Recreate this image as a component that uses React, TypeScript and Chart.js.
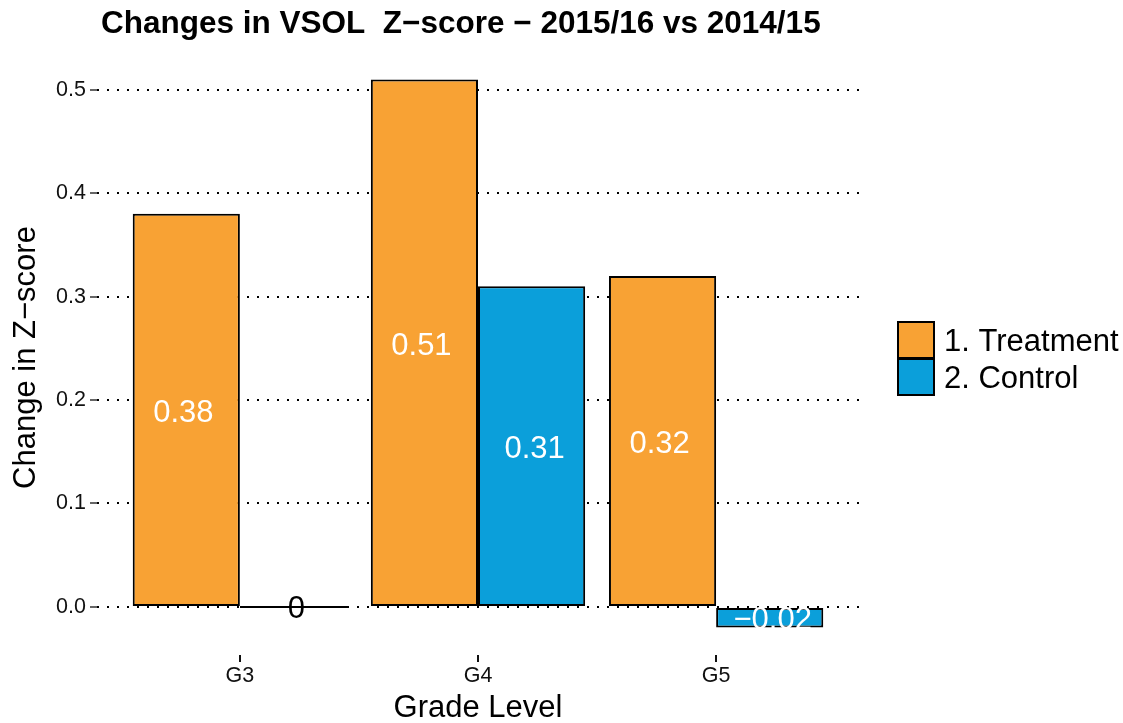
import React, { useEffect, useRef } from "react";
import { Chart, registerables } from "chart.js";

Chart.register(...registerables);

const categories = ["G3", "G4", "G5"];
const treatment = [0.38, 0.51, 0.32];
const control = [0, 0.31, -0.02];
const seriesNames = ["1. Treatment", "2. Control"];
const seriesColors = ["#F8A234", "#0B9FDA"];
const yTicks = [0, 0.1, 0.2, 0.3, 0.4, 0.5];
const titleText = "Changes in VSOL  Z\u2212score \u2212 2015/16 vs 2014/15";
const yTitle = "Change in Z\u2212score";
const xTitle = "Grade Level";

const FONT = "'Liberation Sans', Arial, Helvetica, sans-serif";
const LABEL_DODGE = 0.95;

function fmt(v: number): string {
  if (v === 0) return "0";
  const s = String(Math.abs(v));
  return (v < 0 ? "\u2212" : "") + s;
}

const decorPlugin = {
  id: "decor",
  afterDatasetsDraw(chart: any) {
    const ctx = chart.ctx as CanvasRenderingContext2D;
    const yScale = chart.scales.y;
    const xScale = chart.scales.x;
    const n = chart.data.datasets.length;
    ctx.save();
    ctx.font = `31px ${FONT}`;
    ctx.textAlign = "center";
    ctx.textBaseline = "alphabetic";
    chart.data.datasets.forEach((ds: any, di: number) => {
      ds.data.forEach((pt: any) => {
        const v = pt.y as number;
        const off = (-LABEL_DODGE / 2) + (LABEL_DODGE / n) * (di + 0.5);
        const px = xScale.getPixelForValue(pt.x + off);
        const py = yScale.getPixelForValue(v / 2) + 11.5;
        ctx.fillStyle = v === 0 ? "#000000" : "#FFFFFF";
        ctx.fillText(fmt(v), px, py);
      });
    });
    ctx.restore();
  },
  afterDraw(chart: any) {
    const ctx = chart.ctx as CanvasRenderingContext2D;
    const area = chart.chartArea;
    const xScale = chart.scales.x;
    const yScale = chart.scales.y;
    ctx.save();
    ctx.setLineDash([]);
    ctx.globalAlpha = 1;
    ctx.fillStyle = "#111111";
    const tickTop = Math.round(yScale.bottom);
    categories.forEach((_, i) => {
      const px = Math.round(xScale.getPixelForValue(i + 1));
      ctx.fillRect(px - 1, tickTop, 2, 7);
    });
    ctx.fillStyle = "#000000";
    ctx.font = `bold 31.5px ${FONT}`;
    ctx.textAlign = "left";
    ctx.textBaseline = "alphabetic";
    ctx.fillText(titleText, 101, 33);
    ctx.font = `31px ${FONT}`;
    ctx.textAlign = "center";
    ctx.fillText(xTitle, (area.left + area.right) / 2, 717);
    ctx.save();
    ctx.translate(35, (area.top + area.bottom) / 2 + 4);
    ctx.rotate(-Math.PI / 2);
    ctx.textAlign = "center";
    ctx.fillText(yTitle, 0, 0);
    ctx.restore();
    const boxX = 898;
    const boxS = 36;
    const tops = [322, 359];
    chart.data.datasets.forEach((ds: any, di: number) => {
      const t = tops[di];
      ctx.fillStyle = ds.backgroundColor;
      ctx.fillRect(boxX, t, boxS, boxS);
      ctx.strokeStyle = "#000000";
      ctx.lineWidth = 2;
      ctx.strokeRect(boxX, t, boxS, boxS);
      ctx.fillStyle = "#000000";
      ctx.font = `31px ${FONT}`;
      ctx.textAlign = "left";
      ctx.textBaseline = "alphabetic";
      ctx.fillText(ds.label, 944, t + 29);
    });
    ctx.restore();
  },
};

export default function App() {
  const ref = useRef<HTMLCanvasElement | null>(null);
  useEffect(() => {
    if (!ref.current) return;
    const mk = (vals: number[]) => vals.map((v, i) => ({ x: i + 1, y: v }));
    const common = {
      borderColor: "#000000",
      borderWidth: 2,
      borderSkipped: false,
      categoryPercentage: 0.9,
      barPercentage: 1,
      minBarLength: 2,
    };
    const chart = new Chart(ref.current, {
      type: "bar",
      data: {
        datasets: [
          { label: seriesNames[0], data: mk(treatment), backgroundColor: seriesColors[0], ...common },
          { label: seriesNames[1], data: mk(control), backgroundColor: seriesColors[1], ...common },
        ],
      } as any,
      options: {
        animation: false,
        responsive: false,
        maintainAspectRatio: false,
        layout: { padding: { left: 0, right: 264, top: 52, bottom: 0 } },
        plugins: {
          legend: { display: false },
          title: { display: false },
          tooltip: { enabled: false },
        },
        scales: {
          x: {
            type: "linear",
            min: 0.4,
            max: 3.6,
            offset: false,
            afterFit: (s: any) => {
              s.height = 68;
            },
            afterBuildTicks: (s: any) => {
              s.ticks = categories.map((_, i) => ({ value: i + 1 }));
            },
            ticks: {
              callback: (v: any) => categories[Math.round(Number(v)) - 1] ?? "",
              font: { family: FONT, size: 21.5 },
              color: "#111111",
              padding: 8,
              maxRotation: 0,
              autoSkip: false,
            },
            grid: { display: false, offset: false, drawTicks: false },
            border: { display: false },
          },
          y: {
            type: "linear",
            min: -0.0465,
            max: 0.5365,
            afterFit: (s: any) => {
              s.width = 97;
            },
            afterBuildTicks: (s: any) => {
              s.ticks = yTicks.map((v) => ({ value: v }));
            },
            ticks: {
              callback: (v: any) => Number(v).toFixed(1),
              font: { family: FONT, size: 21.5 },
              color: "#111111",
              padding: 4,
            },
            grid: {
              display: true,
              drawOnChartArea: true,
              drawTicks: true,
              tickLength: 7,
              color: "#000000",
              lineWidth: 2,
              borderDash: [2, 8],
              tickBorderDash: [],
              tickColor: "#333333",
              tickWidth: 1.5,
            } as any,
            border: { display: false, dash: [2, 8] } as any,
          },
        },
      } as any,
      plugins: [decorPlugin],
    });
    return () => chart.destroy();
  }, []);
  return (
    <div style={{ position: "absolute", left: 0, top: 0, width: 1123, height: 723, background: "#fff" }}>
      <canvas ref={ref} width={1123} height={723} style={{ width: 1123, height: 723, display: "block" }} />
    </div>
  );
}
